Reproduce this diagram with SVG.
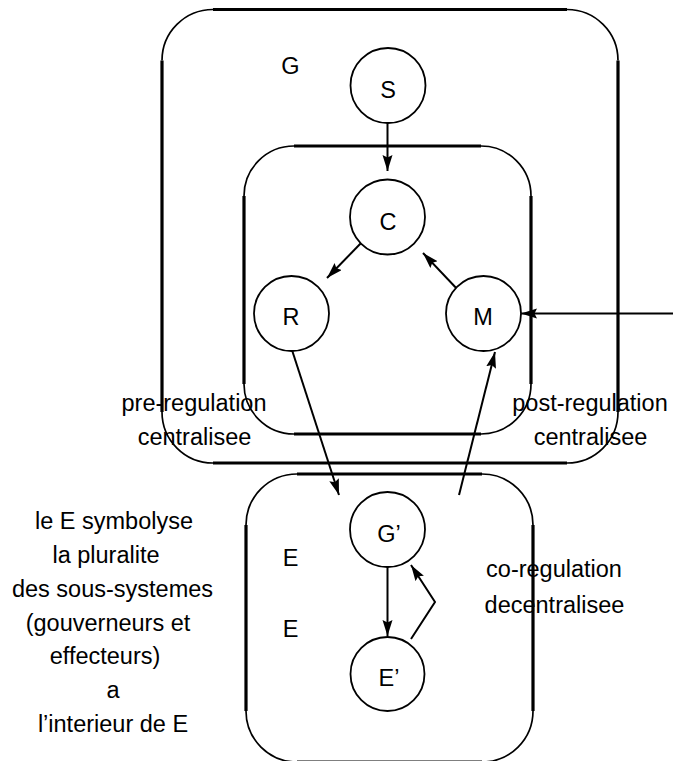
<svg xmlns="http://www.w3.org/2000/svg" width="673" height="761" viewBox="0 0 673 761">
  <style>
    .side { stroke: #000; stroke-width: 3.2; fill: none; }
    .corner { stroke: #000; stroke-width: 1.7; fill: none; }
    .node circle { fill: #fff; stroke: #000; stroke-width: 1.8; }
    .edge { stroke: #000; stroke-width: 2; fill: none; }
    text { font-family: "Liberation Sans", Arial, sans-serif; font-size: 23.5px; fill: #000; }
    .mid { text-anchor: middle; }
  </style>
  <defs>
    <marker id="head" markerUnits="userSpaceOnUse" markerWidth="18" markerHeight="12" refX="16" refY="5" orient="auto">
      <path d="M0,0 L16,5 L0,10 L2.5,5 z" fill="#000"/>
    </marker>
  </defs>

  <!-- outer box G: heavy straight sides, light rounded corners -->
  <g id="box-G">
    <path class="side" d="M213,9.5 H567 M618,60.5 V412 M567,463 H213 M162,412 V60.5"/>
    <path class="corner" d="M162,60.5 A51,51 0 0 1 213,9.5 M567,9.5 A51,51 0 0 1 618,60.5 M618,412 A51,51 0 0 1 567,463 M213,463 A51,51 0 0 1 162,412"/>
  </g>

  <!-- inner box: centralised regulation -->
  <g id="box-C">
    <path class="side" d="M294,146 H481 M531,196 V384 M481,434 H294 M244,384 V196"/>
    <path class="corner" d="M244,196 A50,50 0 0 1 294,146 M481,146 A50,50 0 0 1 531,196 M531,384 A50,50 0 0 1 481,434 M294,434 A50,50 0 0 1 244,384"/>
  </g>

  <!-- lower box E -->
  <g id="box-E">
    <path class="side" d="M297,474 H482 M533,525 V711 M482,762 H297 M246,711 V525"/>
    <path class="corner" d="M246,525 A51,51 0 0 1 297,474 M482,474 A51,51 0 0 1 533,525 M533,711 A51,51 0 0 1 482,762 M297,762 A51,51 0 0 1 246,711"/>
  </g>

  <!-- connectors -->
  <g id="connectors">
    <line class="edge" x1="387.5" y1="123" x2="387.5" y2="171" marker-end="url(#head)"/>
    <line class="edge" x1="363" y1="241" x2="327" y2="278" marker-end="url(#head)"/>
    <line class="edge" x1="459" y1="291" x2="423" y2="253" marker-end="url(#head)"/>
    <line class="edge" x1="673" y1="313.5" x2="521" y2="313.5" marker-end="url(#head)"/>
    <line class="edge" x1="292" y1="350" x2="339" y2="495" marker-end="url(#head)"/>
    <line class="edge" x1="459" y1="495" x2="495" y2="352" marker-end="url(#head)"/>
    <line class="edge" x1="387.5" y1="567" x2="387.5" y2="636" marker-end="url(#head)"/>
    <polyline class="edge" points="411,639 435,602 411,565" marker-end="url(#head)"/>
  </g>

  <!-- nodes -->
  <g id="node-S" class="node">
    <circle cx="388" cy="85.5" r="37.5"/>
    <text class="mid" x="388" y="98">S</text>
  </g>
  <g id="node-C" class="node">
    <circle cx="387.5" cy="217" r="37.5"/>
    <text class="mid" x="388" y="230">C</text>
  </g>
  <g id="node-R" class="node">
    <circle cx="291.5" cy="313.5" r="37.5"/>
    <text class="mid" x="291" y="325">R</text>
  </g>
  <g id="node-M" class="node">
    <circle cx="483.5" cy="313.5" r="37.5"/>
    <text class="mid" x="483" y="325">M</text>
  </g>
  <g id="node-G2" class="node">
    <circle cx="387.5" cy="529.5" r="37.5"/>
    <text class="mid" x="389" y="542">G’</text>
  </g>
  <g id="node-E2" class="node">
    <circle cx="387.5" cy="674" r="37"/>
    <text class="mid" x="389" y="686">E’</text>
  </g>

  <!-- labels -->
  <g id="labels">
    <text class="mid" x="290.5" y="74">G</text>
    <text class="mid" x="290.5" y="566">E</text>
    <text class="mid" x="290.5" y="637">E</text>
    <text class="mid" x="194" y="411">pre-regulation</text>
    <text class="mid" x="194.5" y="445">centralisee</text>
    <text class="mid" x="590" y="411">post-regulation</text>
    <text class="mid" x="590.5" y="445">centralisee</text>
    <text class="mid" x="554" y="577">co-regulation</text>
    <text class="mid" x="554.5" y="613">decentralisee</text>
  </g>

  <g id="note">
    <text class="mid" x="114" y="529">le E symbolyse</text>
    <text class="mid" x="106" y="563">la pluralite</text>
    <text class="mid" x="112.5" y="597">des sous-systemes</text>
    <text class="mid" x="108" y="630.5">(gouverneurs et</text>
    <text class="mid" x="105" y="664">effecteurs)</text>
    <text class="mid" x="113" y="698">a</text>
    <text class="mid" x="113" y="731.5">l’interieur de E</text>
  </g>
</svg>
